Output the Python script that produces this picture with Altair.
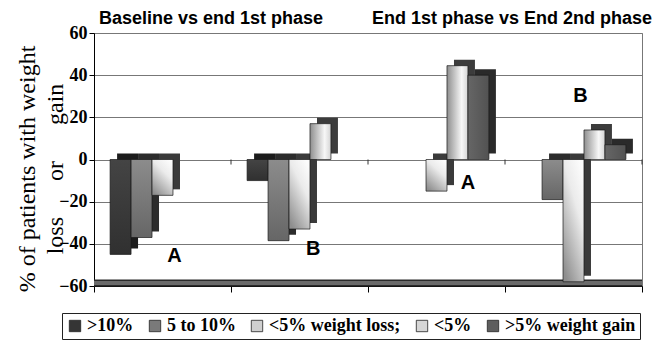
import altair as alt
import pandas as pd

# ---------------- data ----------------
groups = ["Baseline A", "Baseline B", "End A", "End B"]
series = [">10%", "5 to 10%", "<5% weight loss;", "<5%", ">5% weight gain"]
vals_baseline_A = [-45, -37, -17, 0, 0]
vals_baseline_B = [-10, -38.5, -33, 17, 0]
vals_end_A = [0, 0, -15, 44.5, 40]
vals_end_B = [0, -19, -58, 14, 7]
panel_titles = ["Baseline vs end 1st phase", "End 1st phase vs End 2nd phase"]
letters = ["A", "B", "A", "B"]
y_ticks = [-60, -40, -20, 0, 20, 40, 60]

# ---------------- layout / style ----------------
BAR_W = 0.153          # bar width in category units
LETTER_POS = [(0.088, -45.8), (1.10, -42.5), (2.23, -11.2), (3.05, 30.3)]
legend_colors = ["#353535", "#7a7a7a", "#cfcfcf", "#d6d6d6", "#5e5e5e"]
shadow_colors = ["#1c1c1c", "#2c2c2c", "#3a3a3a", "#3c3c3c", "#2a2a2a"]


def grad(stops, x1=0, y1=0, x2=0, y2=1):
    return alt.LinearGradient(
        gradient="linear",
        stops=[alt.GradientStop(offset=o, color=c) for o, c in stops],
        x1=x1, y1=y1, x2=x2, y2=y2,
    )


front_fills = [
    grad([(0, "#444444"), (1, "#303030")]),
    grad([(0, "#8c8c8c"), (1, "#666666")]),
    grad([(0, "#fcfcfc"), (0.35, "#ebebeb"), (1, "#8e8e8e")], x1=0.8, y1=0, x2=0.2, y2=1),
    grad([(0, "#8e8e8e"), (0.7, "#f7f7f7"), (1, "#d4d4d4")], x1=0, y1=0, x2=1, y2=0),
    grad([(0, "#666666"), (1, "#525252")], x1=0, y1=0, x2=1, y2=0),
]

rows = []
for gi, (g, vals) in enumerate(zip(groups, [vals_baseline_A, vals_baseline_B, vals_end_A, vals_end_B])):
    for si, (s, v) in enumerate(zip(series, vals)):
        left = gi + (si - 2.5) * BAR_W
        rows.append(dict(group=g, series=s, value=v, x0=left, x1=left + BAR_W, zero=0))
df = pd.DataFrame(rows)

n = len(groups)
bounds = [i - 0.5 for i in range(n + 1)]

xscale = alt.Scale(domain=[-0.5, n - 0.5], nice=False, zero=False)
yscale = alt.Scale(domain=[-60, 60], nice=False)
x_axis = alt.Axis(values=bounds, labels=False, title=None, grid=False, ticks=True,
                  tickSize=6, tickColor="black", domainColor="black", domainWidth=1)
y_axis = alt.Axis(values=y_ticks, title=None, grid=True, gridColor="#777777", gridWidth=1,
                  labelFont="Liberation Serif", labelFontSize=18, labelFontWeight="bold",
                  labelColor="black", tickSize=5, tickColor="black", domainColor="black",
                  labelPadding=2)


def X(f):
    return alt.X(f, type="quantitative", scale=xscale, axis=x_axis)


def Y(f):
    return alt.Y(f, type="quantitative", scale=yscale, axis=y_axis)


base = alt.Chart(df)
layers = []

# floor at -60
floor_df = pd.DataFrame({"a": [bounds[0]], "b": [bounds[-1]], "y": [-60]})
layers.append(
    alt.Chart(floor_df).mark_rule(color="#2a2a2a", strokeWidth=7, yOffset=-3, y2Offset=-3)
    .encode(x=X("a"), x2="b", y=Y("y"))
)
layers.append(
    alt.Chart(floor_df).mark_rule(color="#6a6a6a", strokeWidth=4, yOffset=-3, y2Offset=-3)
    .encode(x=X("a"), x2="b", y=Y("y"))
)

# depth / shadow faces
for s, c in zip(series, shadow_colors):
    layers.append(
        base.transform_filter((alt.datum.series == s) & (alt.datum.value != 0))
        .mark_rect(color=c, xOffset=7, x2Offset=7, yOffset=-6, y2Offset=-6)
        .encode(x=X("x0"), x2="x1", y=Y("value"), y2="zero")
    )

# front faces
for s, f in zip(series, front_fills):
    layers.append(
        base.transform_filter((alt.datum.series == s) & (alt.datum.value != 0))
        .mark_rect(color=f, stroke="#1a1a1a", strokeWidth=0.7)
        .encode(x=X("x0"), x2="x1", y=Y("value"), y2="zero")
    )

# legend-only layer
layers.append(
    base.transform_filter("false").mark_rect()
    .encode(
        x=X("x0"), x2="x1", y=Y("value"), y2="zero",
        color=alt.Color("series:N", scale=alt.Scale(domain=series, range=legend_colors),
                        legend=alt.Legend(
                            title=None, orient="none", direction="horizontal", columns=5,
                            legendX=-32, legendY=280, padding=4, strokeColor="#222222",
                            fillColor="white", symbolType="square", symbolSize=130,
                            symbolStrokeColor="#222222", symbolStrokeWidth=0.8,
                            labelFont="Liberation Serif", labelFontSize=18,
                            labelFontWeight="bold", labelColor="black", labelLimit=300,
                            columnPadding=12, labelOffset=3)),
    )
)

# small ticks along the zero line at the category boundaries
zt_df = pd.DataFrame({"b": bounds[1:], "y": [0] * n})
layers.append(
    alt.Chart(zt_df).mark_rule(color="#333333", strokeWidth=1, y2Offset=5)
    .encode(x=X("b"), y=Y("y"), y2="y")
)

# A / B letters
ann_df = pd.DataFrame({"t": letters, "px": [p[0] for p in LETTER_POS], "py": [p[1] for p in LETTER_POS]})
layers.append(
    alt.Chart(ann_df).mark_text(font="Liberation Sans", fontSize=20, fontWeight="bold",
                                color="black", align="center", baseline="middle")
    .encode(x=X("px"), y=Y("py"), text="t:N")
)

# panel titles
one = pd.DataFrame({"k": [0]})
for t, px in zip(panel_titles, [117, 418]):
    layers.append(
        alt.Chart(one).mark_text(text=t, font="Liberation Sans", fontSize=18, fontWeight="bold",
                                 color="black", align="center", baseline="middle")
        .encode(x=alt.value(px), y=alt.value(-14))
    )

# y-axis title
nb = "\u00a0" * 6
layers.append(
    alt.Chart(one).mark_text(text=["% of patients with weight", "loss" + nb + "or" + nb + "gain"],
                             font="Liberation Serif", fontSize=24, color="black", angle=270,
                             align="center", baseline="middle", lineHeight=28)
    .encode(x=alt.value(-66), y=alt.value(136))
)

chart = alt.layer(*layers).properties(
    width=548, height=253,
    autosize=alt.AutoSizeParams(type="none"),
    padding={"left": 86, "top": 25, "right": 20, "bottom": 55},
    background="white",
).configure_view(stroke="#777777", strokeWidth=1)

chart.save("out.html", embed_options={"renderer": "svg", "actions": False})
